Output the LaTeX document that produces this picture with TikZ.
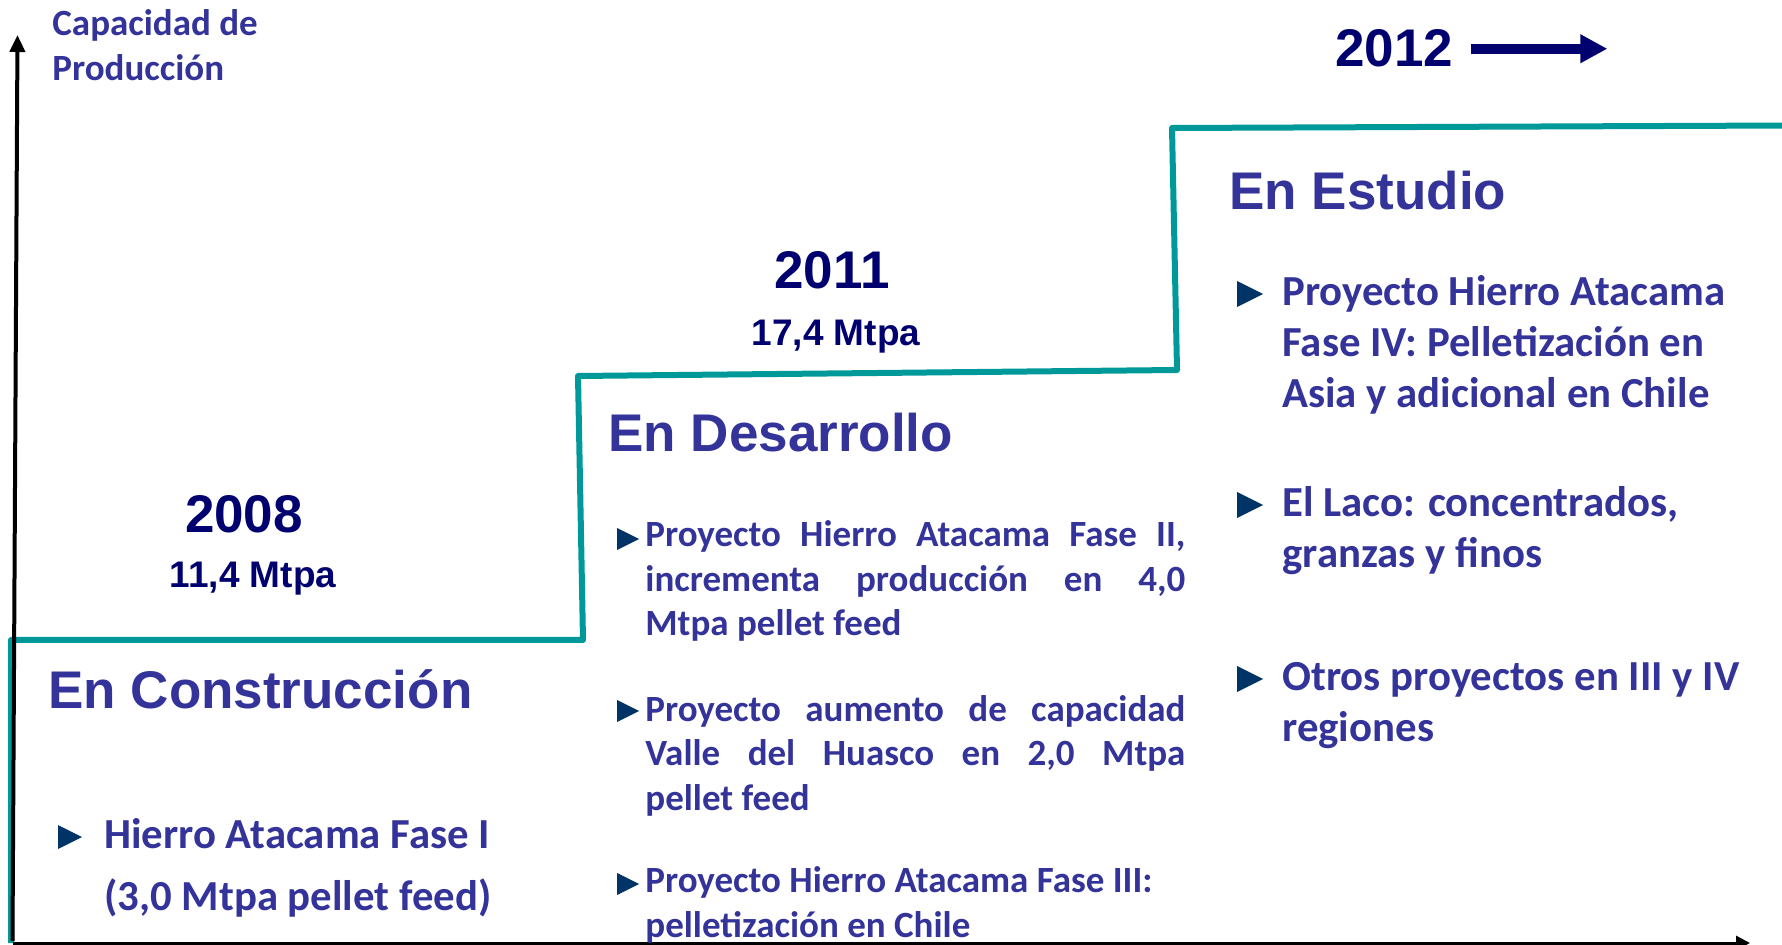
\documentclass[tikz,border=0pt]{standalone}
\usepackage{fontspec}
\setmainfont{Carlito}
\newfontfamily\arialfont{Liberation Sans}
\usepackage{tikz}
\usetikzlibrary{arrows.meta,positioning}
\definecolor{txtBlue}{RGB}{51,51,153}
\definecolor{yearNavy}{RGB}{0,0,110}
\definecolor{stepTeal}{RGB}{0,153,153}
\definecolor{bulletNavy}{RGB}{0,51,102}

\begin{document}
\begin{tikzpicture}[x=0.5pt, y=-0.5pt,
  heading/.style={font=\arialfont\bfseries\fontsize{26.5}{32}\selectfont, text=txtBlue, anchor=base west, inner sep=0},
  yearlbl/.style={font=\arialfont\bfseries\fontsize{26.5}{32}\selectfont, text=yearNavy, anchor=base, inner sep=0},
  mtpalbl/.style={font=\arialfont\bfseries\fontsize{18.5}{22}\selectfont, text=yearNavy, anchor=base, inner sep=0},
  bigtxt/.style={font=\bfseries\fontsize{21.4}{25.5}\selectfont, text=txtBlue, align=left, anchor=base west, inner sep=0},
  lefttxt/.style={font=\bfseries\fontsize{21.4}{31}\selectfont, text=txtBlue, align=left, anchor=base west, inner sep=0},
  midtxt/.style={font=\bfseries\fontsize{18.5}{22.25}\selectfont, text=txtBlue, align=left, anchor=base west, inner sep=0}]
\useasboundingbox (0,0) rectangle (1782,945);

% staircase
\draw[stepTeal, line width=3pt, line join=round]
  (11,943) -- (11,640) -- (583,640) -- (578,376) -- (1177,370) -- (1172,128) -- (1790,125.5);

% axes
\coordinate (origin) at (12.5,941);
\coordinate (ytop) at (17.5,35);
\coordinate (xend) at (1750,943);
\draw[line width=2pt, -{Triangle[length=8.5pt,width=7.5pt]}] (origin) -- (ytop);
\draw[line width=1.5pt, -{Triangle[length=7pt,width=7pt]}] (13,943) -- (xend);
\node[font=\bfseries\fontsize{18.5}{22.5}\selectfont, text=txtBlue, align=left, anchor=base west, inner sep=0]
  (ylabel) at (52,81) {Capacidad de\\Producción};

% years
\node[yearlbl] (y2008) at (244,533) {2008};
\node[mtpalbl] (m2008) at (253,588) {11,4 Mtpa};
\node[yearlbl] (y2011) at (832,289) {2011};
\node[mtpalbl] (m2011) at (836,346) {17,4 Mtpa};
\node[yearlbl] (y2012) at (1394,67) {2012};
\draw[yearNavy, line width=5pt, -{Triangle[length=13.5pt,width=13.5pt]}] ([xshift=9pt]y2012.east) -- ++(68pt,0);

% headings
\node[heading] (hcons) at (48,709) {En Construcción};
\node[heading] (hdes) at (608,452) {En Desarrollo};
\node[heading] (hest) at (1229,210) {En Estudio};

% bullets
\foreach \bx/\by/\bs in {70/837/12, 628/539/11, 628/711/11, 628/884/11, 1250/294/13, 1250/505/13, 1250/679/13}
  \fill[bulletNavy] (\bx-\bs,\by-\bs) -- (\bx+\bs,\by) -- (\bx-\bs,\by+\bs) -- cycle;

% items (anchored on the last line)
\node[lefttxt] (c1) at (104,910) {Hierro Atacama Fase I\\(3,0 Mtpa pellet feed)};
\node[midtxt] (d1) at (645,636) {\makebox[270pt][s]{Proyecto Hierro Atacama Fase II,}\\\makebox[270pt][s]{incrementa producción en 4,0}\\Mtpa pellet feed};
\node[midtxt] (d2) at (645,810) {\makebox[270pt][s]{Proyecto aumento de capacidad}\\\makebox[270pt][s]{Valle del Huasco en 2,0 Mtpa}\\pellet feed};
\node[midtxt] (d3) at (645,937) {Proyecto Hierro Atacama Fase III:\\pelletización en Chile};
\node[bigtxt] (e1) at (1282,408) {Proyecto Hierro Atacama\\Fase IV: Pelletización en\\Asia y adicional en Chile};
\node[bigtxt] (e2) at (1282,568) {El Laco: concentrados,\\granzas y finos};
\node[bigtxt] (e3) at (1282,741) {Otros proyectos en III y IV\\regiones};
\end{tikzpicture}
\end{document}
